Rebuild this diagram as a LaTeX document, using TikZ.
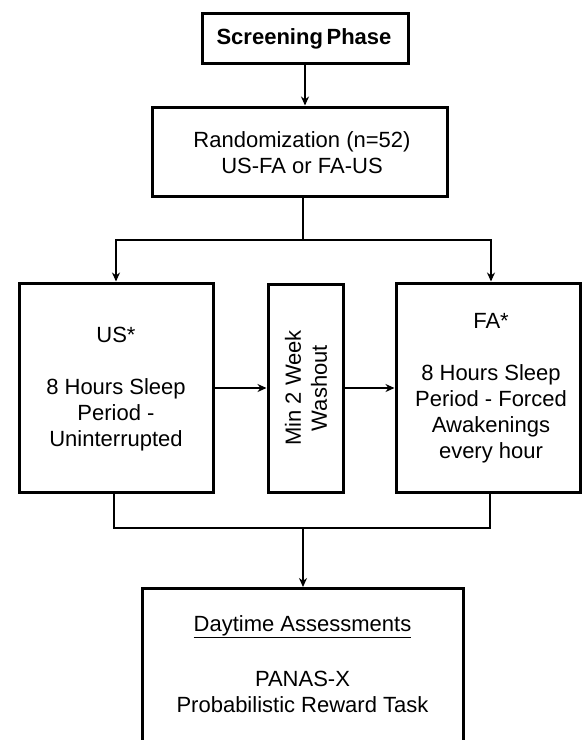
\documentclass[tikz,border=0pt]{standalone}
\usepackage{fontspec}
\setmainfont{Liberation Sans}
\usetikzlibrary{arrows.meta}
\tikzset{
  box/.style={draw, line width=3pt, inner sep=0pt},
  txt/.style={align=center, font=\fontsize{22}{26}\selectfont, inner sep=0pt},
  conn/.style={line width=1.8pt},
  arr/.style={conn, -{Stealth[length=9pt,width=8pt]}},
}
\begin{document}
\begin{tikzpicture}[x=1pt,y=-1pt]
\clip (0,0) rectangle (587,740);
\fill[white] (0,0) rectangle (587,740);
% boxes
\node[box, minimum width=206pt, minimum height=50pt] (screen) at (305,38) {};
\node[txt, font=\fontsize{22}{26}\selectfont\bfseries] (screentxt) at (304,39) {Screening\,Phase};
\node[box, minimum width=295pt, minimum height=89pt] (rand) at (299.5,151.5) {};
\node[txt] (randtxt) at (302,153) {Randomization (n=52)\\US-FA or FA-US};
\node[box, minimum width=194pt, minimum height=209pt] (us) at (116,387.5) {};
\node[txt] (ustxt) at (116,389) {US*\\[26pt]8 Hours Sleep\\Period -\\Uninterrupted};
\node[box, minimum width=75pt, minimum height=208pt] (wash) at (305.5,388) {};
\node[txt, rotate=90] (washtxt) at (306,388) {Min 2 Week\\Washout};
\node[box, minimum width=184pt, minimum height=209pt] (fa) at (488,387.5) {};
\node[txt] (fatxt) at (491,388) {FA*\\[26pt]8 Hours Sleep\\Period - Forced\\Awakenings\\every hour};
\node[box, minimum width=321pt, minimum height=200pt, anchor=north] (day) at (302.5,587) {};
\node[txt] (daytxt) at (302.5,627) {\underline{Daytime Assessments}};
\node[txt] (panastxt) at (302.5,692) {PANAS-X\\Probabilistic Reward Task};
% connectors
\coordinate (split) at (303,240);
\coordinate (join) at (303,528);
\draw[arr] (screen.south) -- (screen.south |- rand.north);
\draw[conn] (rand.south -| split) -- (split);
\draw[arr] (split) -| (us.north);
\draw[arr] (split) -| ([xshift=3pt]fa.north);
\draw[arr] (us.east |- 0,388) -- (wash.west |- 0,388);
\draw[arr] (wash.east |- 0,388) -- (fa.west |- 0,388);
\draw[conn] ([xshift=-2pt]us.south) |- (join) -| ([xshift=2pt]fa.south);
\draw[arr] (join) -- (day.north -| join);
\end{tikzpicture}
\end{document}
